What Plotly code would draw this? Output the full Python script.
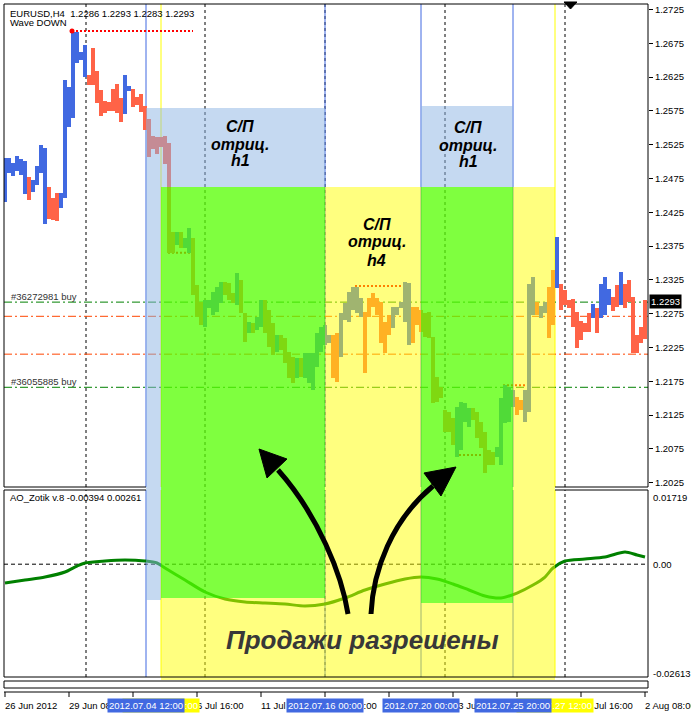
import plotly.graph_objects as go

# ------------------------------------------------------------------ data
bar_high = [
    1.2505, 1.2505, 1.2498, 1.2508, 1.2504, 1.2501, 1.2477, 1.2473, 1.2493, 1.2524,
    1.2520, 1.2462, 1.2446, 1.2453, 1.2453, 1.2621, 1.2610, 1.2692, 1.2692, 1.2662,
    1.2672, 1.2628, 1.2668, 1.2634, 1.2606, 1.2590, 1.2588, 1.2607, 1.2615, 1.2594,
    1.2628, 1.2612, 1.2607, 1.2595, 1.2600, 1.2582, 1.2563, 1.2538, 1.2536, 1.2536,
    1.2538, 1.2527, 1.2396, 1.2396, 1.2396, 1.2387, 1.2402, 1.2387, 1.2317, 1.2292,
    1.2295, 1.2295, 1.2307, 1.2314, 1.2322, 1.2322, 1.2320, 1.2305, 1.2335, 1.2325,
    1.2276, 1.2263, 1.2261, 1.2270, 1.2295, 1.2295, 1.2280, 1.2261, 1.2243, 1.2243,
    1.2239, 1.2218, 1.2211, 1.2209, 1.2209, 1.2217, 1.2217, 1.2217, 1.2246, 1.2255,
    1.2258, 1.2243, 1.2243, 1.2246, 1.2276, 1.2291, 1.2307, 1.2314, 1.2314, 1.2298,
    1.2277, 1.2298, 1.2305, 1.2298, 1.2292, 1.2263, 1.2273, 1.2285, 1.2285, 1.2292,
    1.2322, 1.2320, 1.2285, 1.2285, 1.2280, 1.2276, 1.2277, 1.2240, 1.2181, 1.2166,
    1.2132, 1.2129, 1.2121, 1.2137, 1.2144, 1.2143, 1.2135, 1.2135, 1.2129, 1.2115,
    1.2100, 1.2073, 1.2070, 1.2078, 1.2150, 1.2169, 1.2166, 1.2162, 1.2152, 1.2147,
    1.2162, 1.2319, 1.2329, 1.2292, 1.2286, 1.2292, 1.2314, 1.2340, 1.2388, 1.2319,
    1.2310, 1.2295, 1.2296, 1.2277, 1.2264, 1.2261, 1.2276, 1.2289, 1.2283, 1.2319,
    1.2329, 1.2311, 1.2300, 1.2317, 1.2337, 1.2319, 1.2325, 1.2300, 1.2243, 1.2255,
    1.2295,
]
bar_low = [
    1.2440, 1.2483, 1.2479, 1.2486, 1.2480, 1.2452, 1.2443, 1.2455, 1.2465, 1.2483,
    1.2408, 1.2415, 1.2413, 1.2412, 1.2431, 1.2446, 1.2551, 1.2564, 1.2646, 1.2650,
    1.2625, 1.2613, 1.2613, 1.2587, 1.2567, 1.2572, 1.2575, 1.2575, 1.2572, 1.2558,
    1.2570, 1.2604, 1.2581, 1.2584, 1.2573, 1.2547, 1.2507, 1.2518, 1.2511, 1.2521,
    1.2496, 1.2365, 1.2365, 1.2376, 1.2372, 1.2372, 1.2365, 1.2303, 1.2270, 1.2258,
    1.2255, 1.2283, 1.2273, 1.2277, 1.2291, 1.2303, 1.2295, 1.2291, 1.2288, 1.2276,
    1.2233, 1.2246, 1.2246, 1.2251, 1.2255, 1.2246, 1.2226, 1.2214, 1.2218, 1.2221,
    1.2202, 1.2180, 1.2172, 1.2180, 1.2181, 1.2180, 1.2172, 1.2162, 1.2196, 1.2218,
    1.2229, 1.2231, 1.2180, 1.2174, 1.2211, 1.2266, 1.2263, 1.2280, 1.2276, 1.2270,
    1.2187, 1.2270, 1.2285, 1.2273, 1.2231, 1.2217, 1.2243, 1.2254, 1.2273, 1.2283,
    1.2263, 1.2229, 1.2231, 1.2258, 1.2248, 1.2240, 1.2239, 1.2143, 1.2144, 1.2150,
    1.2100, 1.2100, 1.2081, 1.2063, 1.2073, 1.2115, 1.2107, 1.2118, 1.2091, 1.2076,
    1.2039, 1.2051, 1.2051, 1.2063, 1.2051, 1.2113, 1.2115, 1.2137, 1.2125, 1.2132,
    1.2115, 1.2129, 1.2273, 1.2273, 1.2268, 1.2276, 1.2239, 1.2258, 1.2313, 1.2280,
    1.2288, 1.2283, 1.2255, 1.2224, 1.2236, 1.2248, 1.2248, 1.2268, 1.2246, 1.2268,
    1.2273, 1.2288, 1.2279, 1.2285, 1.2288, 1.2283, 1.2292, 1.2217, 1.2217, 1.2231,
    1.2237,
]
# U = wave up (blue), D = wave down (red)
bar_wave = list(
    "UUUUUUDUUU" "UDDDUUUUUU" "UDDDDDDDDD" "UUDDDDDDDD" "DDDUDUUDDD"
    "UUUUUDDDUD" "DUDUUDDDUD" "DDDUDUUUUU" "UUDDUUUUUU" "DDDDDDDUUU"
    "UUDDDDDDDD" "DDDUUUUDDD" "DDDUUUUUDD" "UUUDUUDDUD" "DDDDDDDUDU"
    "UUDDUDDDDD" "D"
)

# AO_Zotik indicator (read at sampled bars)
ind_idx = [0, 5, 10, 15, 18, 20, 25, 30, 35, 38, 40, 45, 50, 55, 60, 65, 70, 75, 80,
           85, 90, 95, 100, 104, 108, 112, 116, 120, 124, 128, 132, 135, 137, 140,
           145, 150, 155, 158, 160]
ind_val = [-0.00436, -0.00366, -0.00297, -0.00181, -0.00042, 0.00028, 0.00074, 0.00097,
           0.00074, 0.00028, -0.00088, -0.00366, -0.00644, -0.00807, -0.00876, -0.00899,
           -0.00922, -0.00969, -0.00922, -0.00783, -0.00598, -0.00459, -0.00343, -0.00297,
           -0.00343, -0.00459, -0.00598, -0.00737, -0.00783, -0.00668, -0.00482, -0.00297,
           -0.00088, 0.00074, 0.00120, 0.00167, 0.00283, 0.00213, 0.00167]

price_ticks = [1.2025, 1.2075, 1.2125, 1.2175, 1.2225, 1.2275, 1.2325, 1.2375,
               1.2425, 1.2475, 1.2525, 1.2575, 1.2625, 1.2675, 1.2725]
price_range = [1.20185, 1.27330]
ind_range = [-0.02613, 0.01719]
ind_labels = [0.01719, 0.0, -0.02613]
last_price = 1.2293

# time-scale labels that are visible (the others lie fully under the object boxes)
time_tick_idx = [0, 16, 32, 48, 64, 80, 96, 112, 128, 144, 160]
time_tick_text = ["26 Jun 2012", "29 Jun 08:00", "", "6 Jul 16:00",
                  "11 Jul 08:00", "16 Jul 00:00", "", "23 Jul 08:00",
                  "", "30 Jul 16:00", "2 Aug 08:00"]
grid_idx = [20.25, 50, 80, 110, 140]

vline_idx = [35.25, 39, 80, 104, 127, 137.5]
vline_color = ["#4169E1", "#FFFF00", "#4169E1", "#4169E1", "#4169E1", "#FFFF00"]
vline_label = ["2012.07.04 12:00", "2012.07.05 00:00", "2012.07.16 00:00",
               "2012.07.20 00:00", "2012.07.25 20:00", "2012.07.27 12:00"]

order_price = [1.2292, 1.2166]
order_label = ["#36272981 buy", "#36055885 buy"]
stop_price = [1.2271, 1.2215]

lvl_x0 = [16.75, 40.75, 87.5, 124.5, 112.5]
lvl_x1 = [47.0, 46.25, 99.25, 130.0, 120.0]
lvl_price = [1.2693, 1.2365, 1.2316, 1.2169, 1.2066]

# ------------------------------------------------------------------ layout helpers
W, H = 691, 715
L, R, T, B = 4, 648, 4, 692
FONT = "Liberation Sans"


def PX(px):
    return (px - L) / (R - L)


def PY(py):
    return 1 - (py - T) / (B - T)


def IX(px):
    return (px - 5) / 4.0


MAIN_DOM = [PY(487), 1.0]
IND_DOM = [PY(677), PY(490)]

fig = go.Figure()

# bars
for wave, col in (("U", "#4169E1"), ("D", "#FF6347")):
    xs = [i for i, w in enumerate(bar_wave) if w == wave]
    fig.add_trace(go.Bar(
        x=xs, y=[bar_high[i] - bar_low[i] for i in xs], base=[bar_low[i] for i in xs],
        width=0.78, marker=dict(color=col, line=dict(width=0)),
        yaxis="y", xaxis="x", hoverinfo="skip"))

fig.add_trace(go.Scatter(x=[lvl_x0[0]], y=[lvl_price[0]], mode="markers",
                         marker=dict(color="#FF0000", size=5), yaxis="y", hoverinfo="skip"))

# indicator
fig.add_trace(go.Scatter(x=ind_idx, y=ind_val, mode="lines", yaxis="y2", xaxis="x",
                         line=dict(color="#008000", width=3, shape="spline", smoothing=0.8),
                         hoverinfo="skip"))

shapes = []
# grid (dotted verticals) in both panels
for g in grid_idx:
    for yr in ("y domain", "y2 domain"):
        shapes.append(dict(type="line", xref="x", yref=yr, x0=g, x1=g, y0=0, y1=1,
                           line=dict(color="black", width=1, dash="3px,3px"), layer="below"))
# vertical objects
for v, c in zip(vline_idx, vline_color):
    for yr in ("y domain", "y2 domain"):
        shapes.append(dict(type="line", xref="x", yref=yr, x0=v, x1=v, y0=0, y1=1,
                           line=dict(color=c, width=1), layer="below"))
# order and stop levels
for p in order_price:
    shapes.append(dict(type="line", xref="x domain", yref="y", x0=0, x1=1, y0=p, y1=p,
                       line=dict(color="#008000", width=1, dash="8px,3px,2px,3px"), layer="below"))
for p in stop_price:
    shapes.append(dict(type="line", xref="x domain", yref="y", x0=0, x1=1, y0=p, y1=p,
                       line=dict(color="#FF4500", width=1, dash="8px,3px,2px,3px"), layer="below"))
# fractal dotted levels
for a, b, p in zip(lvl_x0, lvl_x1, lvl_price):
    shapes.append(dict(type="line", xref="x", yref="y", x0=a, x1=b, y0=p, y1=p,
                       line=dict(color="#FF0000", width=2, dash="2px,2px"), layer="below"))
# indicator zero line
shapes.append(dict(type="line", xref="x domain", yref="y2", x0=0, x1=1, y0=0, y1=0,
                   line=dict(color="black", width=1, dash="4px,3px"), layer="below"))


def rect(x0, x1, py0, py1, color, op):
    shapes.append(dict(type="rect", xref="x", yref="paper", x0=x0, x1=x1,
                       y0=PY(py1), y1=PY(py0), fillcolor=color, opacity=op,
                       line=dict(width=0), layer="above"))


BLUE = "rgb(139,179,227)"
rect(IX(146), IX(325), 108, 187, BLUE, 0.5)
rect(IX(146), IX(161), 187, 600, BLUE, 0.5)
rect(IX(421), IX(513), 106, 187, BLUE, 0.5)
rect(IX(161), IX(555), 187, 680, "#FFFF00", 0.5)
rect(IX(161), IX(325), 187, 598, "#00FF00", 0.5)
rect(IX(421), IX(513), 187, 603, "#00FF00", 0.5)


def pline(x0, y0, x1, y1, w=1, color="black"):
    shapes.append(dict(type="line", xref="paper", yref="paper", x0=PX(x0), x1=PX(x1),
                       y0=PY(y0), y1=PY(y1), line=dict(color=color, width=w), layer="above"))


# frames
pline(4, 4, 648, 4)
pline(4, 4, 4, 487)
pline(648, 4, 648, 487)
pline(4, 487, 146, 487)
pline(555, 487, 648, 487)
pline(4, 490, 146, 490)
pline(555, 490, 648, 490)
pline(4, 490, 4, 677)
pline(648, 490, 648, 677)
pline(4, 677, 648, 677)
pline(4, 681, 648, 681)
pline(4, 688, 648, 688)
pline(4, 681, 4, 688)
pline(648, 681, 648, 688)
pline(4, 692, 648, 692)
for t in time_tick_idx:
    shapes.append(dict(type="line", xref="x", yref="paper", x0=t, x1=t,
                       y0=PY(697), y1=PY(692), line=dict(color="black", width=1)))


def P(x, y):
    return f"{PX(x):.5f},{PY(y):.5f}"


# curved arrows
shapes.append(dict(type="path", xref="paper", yref="paper",
                   path="M " + P(348, 614) + " C " + P(342, 575) + " " + P(318, 515) + " " + P(278, 470),
                   line=dict(color="black", width=5), layer="above"))
shapes.append(dict(type="path", xref="paper", yref="paper",
                   path="M " + P(259, 449) + " L " + P(287, 459) + " L " + P(267, 478) + " Z",
                   fillcolor="black", line=dict(color="black", width=1), layer="above"))
shapes.append(dict(type="path", xref="paper", yref="paper",
                   path="M " + P(371, 614) + " C " + P(373, 570) + " " + P(392, 520) + " " + P(433, 486),
                   line=dict(color="black", width=5), layer="above"))
shapes.append(dict(type="path", xref="paper", yref="paper",
                   path="M " + P(456, 467) + " L " + P(424, 473) + " L " + P(441, 496) + " Z",
                   fillcolor="black", line=dict(color="black", width=1), layer="above"))
# shift marker
shapes.append(dict(type="path", xref="paper", yref="paper",
                   path="M " + P(564, 2) + " L " + P(577, 2) + " L " + P(570.5, 9) + " Z",
                   fillcolor="black", line=dict(color="black", width=1), layer="above"))

ann = []


def txt(x, y, s, size=9.5, color="black", xanchor="left", bg=None, pad=1):
    a = dict(xref="paper", yref="paper", x=PX(x), y=PY(y), text=s, showarrow=False,
             xanchor=xanchor, yanchor="middle",
             font=dict(family=FONT, size=size, color=color))
    if bg:
        a.update(bgcolor=bg, borderpad=pad)
    ann.append(a)


txt(8, 13, "EURUSD,H4  1.2286 1.2293 1.2283 1.2293")
txt(8, 22, "Wave DOWN")
txt(8, 497, "AO_Zotik v.8 -0.00394 0.00261")
for p, lab in zip(order_price, order_label):
    ypix = 4 + (price_range[1] - p) / (price_range[1] - price_range[0]) * 483
    txt(9, ypix - 6, lab, color="#333333")

# region captions
for cx, ys, last in ((240, (127, 144, 161), "h1"), (377, (224, 242, 260), "h4"),
                     (468, (128, 145, 162), "h1")):
    for yy, s in zip(ys, ("С/П", "отриц.", last)):
        txt(cx, yy, "<b><i>" + s + "</i></b>", size=16, xanchor="center")
txt(362, 640, "<b><i>Продажи разрешены</i></b>", size=26, color="#383838", xanchor="center")

# right-side labels
lp_pix = 4 + (price_range[1] - last_price) / (price_range[1] - price_range[0]) * 483
txt(649, lp_pix, f"{last_price:.4f}", color="white", bg="black", pad=1)
for v, ypix in zip(ind_labels, (497, 564, 673)):
    txt(651, ypix, f"{v:.5f}".rstrip("0") if v != 0 else "0.00")

# time axis
for t, s in zip(time_tick_idx, time_tick_text):
    if s:
        txt(5 + 4 * t - 2, 705, s)
order = sorted(range(len(vline_idx)), key=lambda k: 0 if vline_color[k] == "#FFFF00" else 1)
for k in order:
    bg = "#FFFF00" if vline_color[k] == "#FFFF00" else "#4169E1"
    txt(5 + 4 * vline_idx[k], 705, vline_label[k], color="white", xanchor="center", bg=bg, pad=1)

fig.update_layout(
    width=W, height=H, margin=dict(l=L, r=W - R, t=T, b=H - B, autoexpand=False),
    paper_bgcolor="white", plot_bgcolor="white", showlegend=False, barmode="overlay",
    bargap=0, shapes=shapes, annotations=ann,
    font=dict(family=FONT, size=9.5, color="black"),
    xaxis=dict(range=[-0.25, 160.75], domain=[0, 1], anchor="y2", showgrid=False,
               zeroline=False, showticklabels=False, ticks="", showline=False, fixedrange=True),
    yaxis=dict(domain=MAIN_DOM, range=price_range, side="right", anchor="x",
               tickvals=price_ticks, ticktext=[f"{v:.4f}" for v in price_ticks],
               ticks="outside", ticklen=4, tickcolor="black", showgrid=False,
               zeroline=False, showline=False, automargin=False,
               tickfont=dict(family=FONT, size=9.5, color="black")),
    yaxis2=dict(domain=IND_DOM, range=ind_range, side="right", anchor="x",
                showticklabels=False, ticks="", showgrid=False, zeroline=False,
                showline=False),
)

fig.write_html("out.html", config={"displayModeBar": False},
               post_script="document.body.style.margin='0';document.body.style.overflow='hidden';")
